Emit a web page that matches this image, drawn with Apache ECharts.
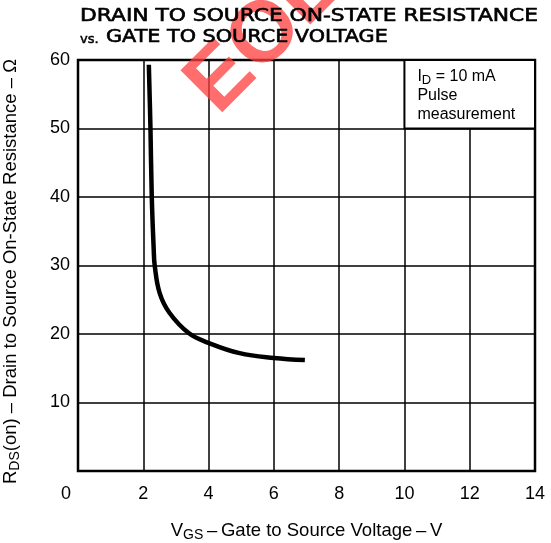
<!DOCTYPE html>
<html><head><meta charset="utf-8">
<script src="https://cdn.jsdelivr.net/npm/echarts@6/dist/echarts.min.js"></script>
<style>html,body{margin:0;padding:0;background:#fff}#c{width:551px;height:543px}</style>
</head><body><div id="c"></div>
<script>
// Data
var vgs = [2.17, 2.22, 2.26, 2.32, 2.35, 2.5, 2.8, 3.4, 4.0, 4.95, 6.0, 6.95];
var rds = [59.3, 50, 40, 32.3, 30, 26, 23.1, 20.1, 18.7, 17.2, 16.5, 16.2];
var xTicks = [0, 2, 4, 6, 8, 10, 12, 14];
var yTicks = [0, 10, 20, 30, 40, 50, 60];
var titleLine1 = 'DRAIN TO SOURCE ON-STATE RESISTANCE';
var titleLine2a = 'vs.';
var titleLine2b = 'GATE TO SOURCE VOLTAGE';
var noteLines = ['{m|I}{s|D}{m| = 10 mA}', '{m|Pulse}', '{m|measurement}'];
var noteBox = [[10, 60], [14, 50]];

var pts = vgs.map(function (v, i) { return [v, rds[i]]; });
var FONT = 'Liberation Sans';
var chart = echarts.init(document.getElementById('c'), null, {renderer: 'canvas'});
chart.setOption({
  animation: false,
  backgroundColor: '#fff',
  grid: {left: 78, right: 16, top: 60, bottom: 72, containLabel: false, outerBoundsMode: 'none',
    show: true, borderColor: '#000', borderWidth: 2.5, backgroundColor: 'transparent'},
  xAxis: {
    type: 'value', min: 0, max: 14, interval: 2,
    axisLine: {show: false}, axisTick: {show: false},
    splitLine: {show: true, lineStyle: {color: '#000', width: 1.5}},
    axisLabel: {color: '#000', fontSize: 18, fontFamily: FONT, margin: 14,
      formatter: function (v) {
        if (xTicks.indexOf(v) < 0) return '';
        return v === 0 ? '{z|0}' : String(v);
      },
      rich: {z: {fontSize: 18, fontFamily: FONT, color: '#000', padding: [0, 24, 0, 0]}}},
    name: '{m|V}{s|GS}{m|\u2009\u2013\u2009Gate to Source Voltage\u2009\u2013\u2009V}',
    nameLocation: 'middle', nameGap: 49,
    nameTextStyle: {rich: {
      m: {fontSize: 18.5, fontFamily: FONT, color: '#000'},
      s: {fontSize: 14, fontFamily: FONT, color: '#000', padding: [8, 0, 0, 0]}
    }}
  },
  yAxis: {
    type: 'value', min: 0, max: 60, interval: 10,
    axisLine: {show: false}, axisTick: {show: false},
    splitLine: {show: true, lineStyle: {color: '#000', width: 1.5}},
    axisLabel: {color: '#000', fontSize: 18, fontFamily: FONT, margin: 8,
      formatter: function (v) { return (v !== 0 && yTicks.indexOf(v) >= 0) ? String(v) : ''; }},
    name: '{m|R}{s|DS}{m|(on) \u2013 Drain to Source On-State Resistance \u2013 Ω}',
    nameLocation: 'middle', nameGap: 56, nameRotate: 90,
    nameTextStyle: {padding: [0, 12, 0, 0], rich: {
      m: {fontSize: 18.5, fontFamily: FONT, color: '#000'},
      s: {fontSize: 14, fontFamily: FONT, color: '#000', padding: [8, 0, 0, 0]}
    }}
  },
  series: [{
    type: 'line', data: pts, smooth: 0.4, symbol: 'none',
    lineStyle: {color: '#000', width: 4.5}, z: 5,
    markArea: {
      silent: true,
      itemStyle: {color: '#fff', borderColor: '#000', borderWidth: 2},
      label: {show: false},
      data: [[{coord: noteBox[0]}, {coord: noteBox[1]}]]
    }
  }]
});
var tl = chart.convertToPixel({gridIndex: 0}, noteBox[0]);
chart.setOption({
  graphic: [
    {type: 'text', x: 232, y: 130, rotation: Math.PI / 4, z: 50,
     style: {text: 'EOL', font: 'bold 86px "Liberation Sans"', fill: 'rgba(255,60,60,0.75)', textAlign: 'left', textVerticalAlign: 'bottom'}},
    {type: 'text', x: 80, y: 25, z: 60, scaleX: 1.28,
     style: {text: titleLine1, font: '17px "DejaVu Sans"', fill: '#000', stroke: '#000', lineWidth: 0.6, textVerticalAlign: 'bottom'}},
    {type: 'text', x: 80, y: 46, z: 60,
     style: {text: titleLine2a, font: '13px "DejaVu Sans"', fill: '#000', stroke: '#000', lineWidth: 0.5, textVerticalAlign: 'bottom'}},
    {type: 'text', x: 106, y: 46, z: 60, scaleX: 1.22,
     style: {text: titleLine2b, font: '17px "DejaVu Sans"', fill: '#000', stroke: '#000', lineWidth: 0.6, textVerticalAlign: 'bottom'}},
    {type: 'text', x: tl[0] + 13, y: tl[1] + 7, z: 60,
     style: {text: noteLines.join('\n'), fill: '#000', rich: {
       m: {fontSize: 16, fontFamily: FONT, color: '#000', lineHeight: 19},
       s: {fontSize: 13, fontFamily: FONT, color: '#000', lineHeight: 19, padding: [7, 0, 0, 0]}
     }}}
  ]
});
</script></body></html>
